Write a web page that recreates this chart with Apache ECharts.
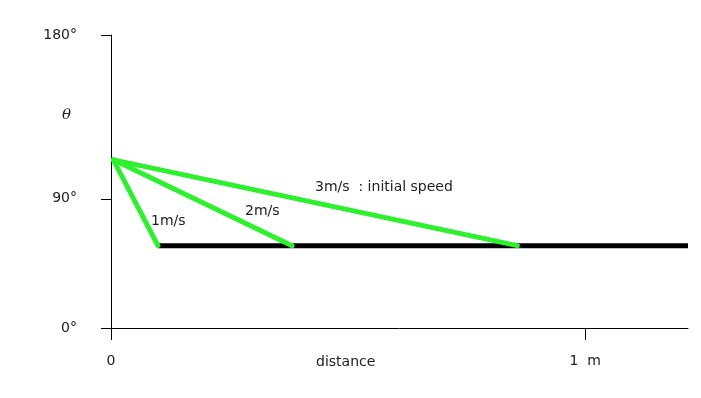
<!DOCTYPE html>
<html>
<head>
<meta charset="utf-8">
<script src="https://cdn.jsdelivr.net/npm/echarts@6/dist/echarts.min.js"></script>
<style>
  html, body { margin: 0; padding: 0; background: #fff; }
  #chart { width: 701px; height: 398px; }
</style>
</head>
<body>
<div id="chart"></div>
<script>
  /******************/
  //region    //data

  // distance (m) / theta (deg)
  let xMax = 1.217;
  let xTickVals = [0, 1];
  let xTickLabels = ['0', '1  m'];
  let yTickVals = [0, 79.4, 180];
  let yTickLabels = ['0°', '90°', '180°'];

  let startPt = [0.005, 103.3];
  let endTheta = 50.6;
  let endDist = [0.099, 0.382, 0.857];   // 1m/s, 2m/s, 3m/s
  let speedLabels = ['1m/s', '2m/s', '3m/s  : initial speed'];

  //endregion

  /******************/
  //region    //chart

  let chart = echarts.init(document.getElementById('chart'));
  let font = '"DejaVu Sans", sans-serif';
  let green = '#2ef02e';

  let series = [
    {
      type: 'line',
      data: [[endDist[0], endTheta], [xMax, endTheta]],
      symbol: 'none',
      lineStyle: { color: '#000', width: 5, cap: 'butt' },
      z: 2,
    }
  ];
  endDist.forEach(d => {
    series.push({
      type: 'line',
      data: [startPt, [d, endTheta]],
      symbol: 'none',
      lineStyle: { color: green, width: 5, cap: 'round' },
      z: 3,
    });
  });

  let option = {
    animation: false,
    grid: { left: 111, right: 13, top: 35, bottom: 70 },
    xAxis: {
      type: 'value',
      min: 0,
      max: xMax,
      splitLine: { show: false },
      axisLine: { onZero: false, lineStyle: { color: '#000', width: 1 } },
      axisTick: {
        customValues: xTickVals, length: 12, inside: false,
        lineStyle: { color: '#000' },
      },
      axisLabel: {
        customValues: xTickVals,
        margin: 26,
        color: '#222',
        fontSize: 14,
        fontFamily: font,
        formatter: v => xTickLabels[xTickVals.indexOf(v)],
      },
    },
    yAxis: {
      type: 'value',
      min: 0,
      max: 180,
      splitLine: { show: false },
      axisLine: { show: true, onZero: false, lineStyle: { color: '#000', width: 1 } },
      axisTick: {
        show: true, customValues: yTickVals, length: 10,
        lineStyle: { color: '#000' },
      },
      axisLabel: {
        customValues: yTickVals,
        margin: 34,
        color: '#222',
        fontSize: 14,
        fontFamily: font,
        formatter: v => yTickLabels[yTickVals.indexOf(v)],
      },
    },
    graphic: [
      { type: 'text', left: 62, top: 108, style: { text: 'θ', font: 'italic 15px "DejaVu Serif", serif', fill: '#222' } },
      { type: 'text', left: 151, top: 214, style: { text: speedLabels[0], font: '14px ' + font, fill: '#222' } },
      { type: 'text', left: 245, top: 204, style: { text: speedLabels[1], font: '14px ' + font, fill: '#222' } },
      { type: 'text', left: 315, top: 180, style: { text: speedLabels[2], font: '14px ' + font, fill: '#222' } },
      { type: 'text', left: 316, top: 355, style: { text: 'distance', font: '14px ' + font, fill: '#222' } },
    ],
    series: series,
  };

  chart.setOption(option);

  //endregion
</script>
</body>
</html>
